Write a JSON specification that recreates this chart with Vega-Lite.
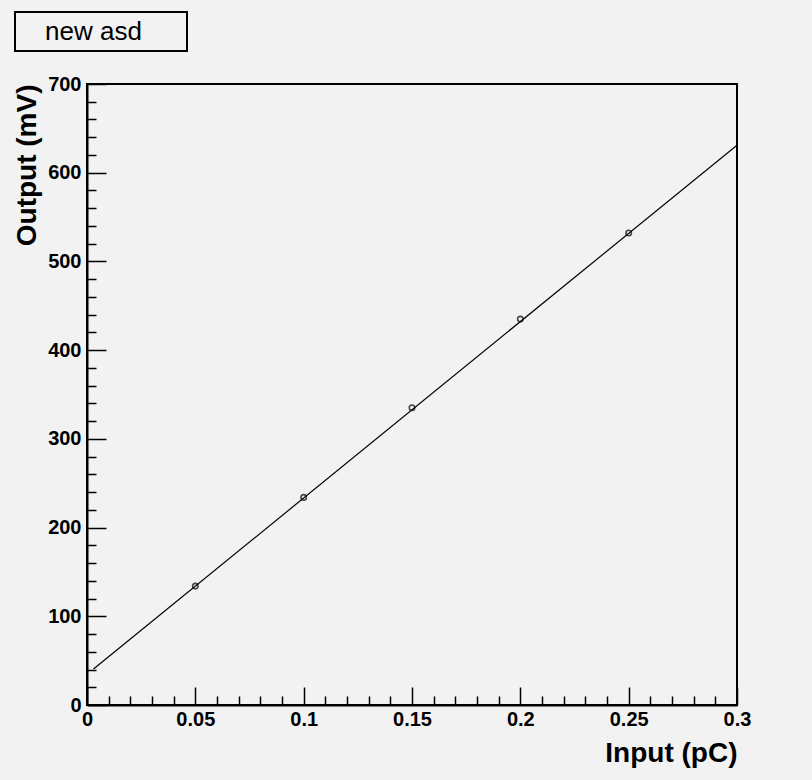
{
  "$schema": "https://vega.github.io/schema/vega-lite/v6.json",
  "padding": {"left": 13, "top": 11, "right": 67, "bottom": 13},
  "background": "#f2f2f2",
  "width": 650,
  "height": 621,
  "config": {
    "view": {"stroke": "black", "strokeWidth": 2, "fill": "#f2f2f2"},
    "font": "Liberation Sans",
    "legend": {
      "orient": "none",
      "title": null,
      "padding": 6,
      "cornerRadius": 0,
      "strokeWidth": 2,
      "labelFont": "Liberation Sans",
      "labelFontSize": 26,
      "labelFontWeight": "normal",
      "labelOffset": -137,
      "symbolType": "circle",
      "symbolSize": 676,
      "symbolOffset": 133,
      "symbolFillColor": "transparent",
      "symbolStrokeColor": "transparent",
      "symbolOpacity": 0
    }
  },
  "layer": [
    {
      "data": {"values": [{"input": 0.003, "output": 40.5}, {"input": 0.3, "output": 631}]},
      "mark": {"type": "line", "strokeWidth": 1.2},
      "encoding": {
        "x": {
          "field": "input", "type": "quantitative",
          "scale": {"domain": [0, 0.3], "nice": false, "zero": false},
          "axis": {
            "orient": "bottom", "values": [0, 0.05, 0.1, 0.15, 0.2, 0.25, 0.3], "format": "~f",
            "title": "Input (pC)", "titleAnchor": "end", "titleFontSize": 28, "titleFontWeight": "bold", "titleColor": "black", "titlePadding": 10,
            "labelFontSize": 20, "labelFontWeight": "bold", "labelColor": "black", "labelPadding": 22, "labelFlush": false, "labelOverlap": false,
            "tickSize": -18, "tickColor": "black", "tickWidth": 1.5, "domainColor": "black", "domainWidth": 2, "grid": false
          }
        },
        "y": {
          "field": "output", "type": "quantitative",
          "scale": {"domain": [0, 700], "nice": false, "zero": false},
          "axis": {
            "orient": "left", "values": [0, 100, 200, 300, 400, 500, 600, 700], "format": "~f",
            "title": "Output (mV)", "titleAnchor": "end", "titleFontSize": 28, "titleFontWeight": "bold", "titleColor": "black", "titlePadding": 6,
            "labelFontSize": 20, "labelFontWeight": "bold", "labelColor": "black", "labelPadding": 25, "labelFlush": false, "labelOverlap": false,
            "tickSize": -19, "tickColor": "black", "tickWidth": 1.5, "domainColor": "black", "domainWidth": 2, "grid": false
          }
        },
        "color": {
          "datum": "new asd",
          "scale": {"range": ["black"]},
          "legend": {
            "legendX": -72, "legendY": -72,
            "fillColor": "#f2f2f2", "strokeColor": "black",
            "labelColor": "black"
          }
        }
      }
    },
    {
      "data": {"values": [
        {"input": 0.05, "output": 134},
        {"input": 0.1, "output": 234},
        {"input": 0.15, "output": 335},
        {"input": 0.2, "output": 435},
        {"input": 0.25, "output": 532}
      ]},
      "mark": {"type": "point", "shape": "circle", "filled": false, "color": "black", "size": 30, "strokeWidth": 1.6},
      "encoding": {
        "x": {
          "field": "input", "type": "quantitative",
          "axis": {
            "orient": "bottom", "title": null, "labels": false, "domain": false, "grid": false,
            "values": [0.01, 0.02, 0.03, 0.04, 0.06, 0.07, 0.08, 0.09, 0.11, 0.12, 0.13, 0.14, 0.16, 0.17, 0.18, 0.19, 0.21, 0.22, 0.23, 0.24, 0.26, 0.27, 0.28, 0.29],
            "tickSize": -9, "tickColor": "black", "tickWidth": 1.5
          }
        },
        "y": {
          "field": "output", "type": "quantitative",
          "axis": {
            "orient": "left", "title": null, "labels": false, "domain": false, "grid": false,
            "values": [20, 40, 60, 80, 120, 140, 160, 180, 220, 240, 260, 280, 320, 340, 360, 380, 420, 440, 460, 480, 520, 540, 560, 580, 620, 640, 660, 680],
            "tickSize": -9, "tickColor": "black", "tickWidth": 1.5
          }
        }
      }
    }
  ],
  "resolve": {"axis": {"x": "independent", "y": "independent"}}
}
